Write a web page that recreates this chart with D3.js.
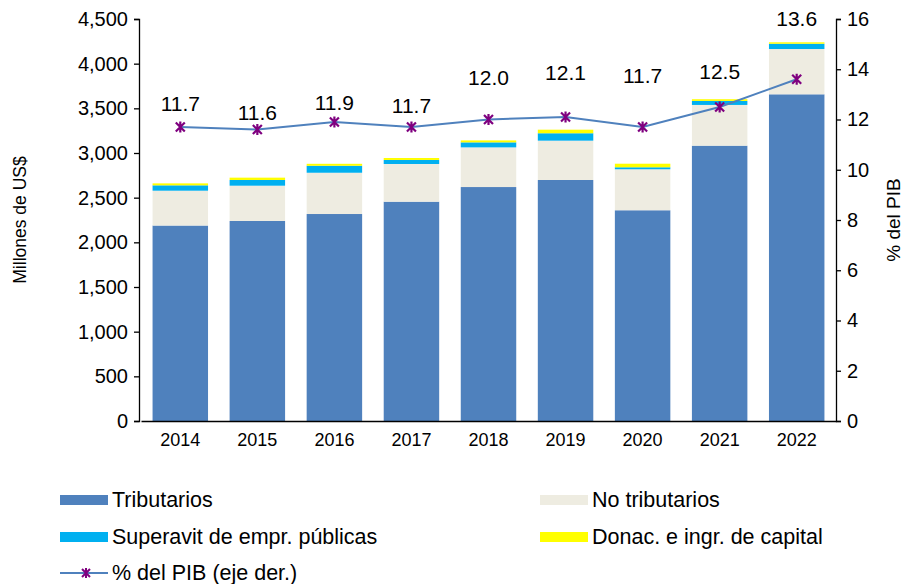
<!DOCTYPE html>
<html>
<head>
<meta charset="utf-8">
<script src="https://cdn.jsdelivr.net/npm/d3@7"></script>
<style>
  body { margin: 0; background: #fff; }
  text { font-family: "Liberation Sans", Arial, sans-serif; fill: #000; }
</style>
</head>
<body>
<div id="chart"></div>
<script>

let years = ['2014', '2015', '2016', '2017', '2018', '2019', '2020', '2021', '2022']

let tributarios = [2188, 2239, 2317, 2455, 2619, 2698, 2359, 3082, 3657]

let noTributarios = [390, 395, 462, 422, 444, 440, 459, 456, 507]

let superavit = [60, 64, 78, 45, 56, 83, 22, 45, 59]

let donaciones = [22, 26, 22, 22, 22, 40, 40, 19, 16]

let pctPib = [11.7, 11.6, 11.9, 11.7, 12.0, 12.1, 11.7, 12.5, 13.6]

let leftTicks = [0, 500, 1000, 1500, 2000, 2500, 3000, 3500, 4000, 4500]

let rightTicks = [0, 2, 4, 6, 8, 10, 12, 14, 16]

// label lift above each marker (px), as placed in the original
let labelLift = [24, 17, 20, 22, 42, 44, 52, 35, 61]

let chartWidth = 904
let chartHeight = 584
let plotLeft = 139
let plotRight = 836
let plotTop = 19
let plotBottom = 421

let seriesNames = ['Tributarios', 'No tributarios', 'Superavit de empr. públicas', 'Donac. e ingr. de capital']
let seriesColors = ['#4f81bd', '#eeece1', '#00b0f0', '#ffff00']
let lineColor = '#4f81bd'
let markerColor = '#7f007f'

let table = years.map((y, i) => ({
	year: y,
	s0: tributarios[i],
	s1: noTributarios[i],
	s2: superavit[i],
	s3: donaciones[i]
}))

let stack = d3.stack().keys(['s0', 's1', 's2', 's3'])(table)

let x = d3.scaleBand()
	.domain(years)
	.range([plotLeft + 2, plotRight])
	.paddingInner(0.28)
	.paddingOuter(0.15)

let yL = d3.scaleLinear().domain([0, 4500]).range([plotBottom, plotTop])
let yR = d3.scaleLinear().domain([0, 16]).range([plotBottom, plotTop])

const svg = d3.select('#chart')
	.append('svg')
	.attr('width', chartWidth)
	.attr('height', chartHeight)

// bars
svg.append('g')
	.selectAll('g')
	.data(stack)
	.enter()
	.append('g')
	.attr('fill', (d, i) => seriesColors[i])
	.selectAll('rect')
	.data(d => d)
	.enter()
	.append('rect')
	.attr('x', d => x(d.data.year))
	.attr('width', x.bandwidth())
	.attr('y', d => yL(d[1]))
	.attr('height', d => yL(d[0]) - yL(d[1]))

// axes
let leftAxis = svg.append('g')
	.attr('transform', `translate(${plotLeft},0)`)
	.call(d3.axisLeft(yL).tickValues(leftTicks).tickSize(5).tickPadding(6).tickFormat(d3.format(',')))
leftAxis.selectAll('text').style('font-size', '20px')

let rightAxis = svg.append('g')
	.attr('transform', `translate(${plotRight},0)`)
	.call(d3.axisRight(yR).tickValues(rightTicks).tickSize(5).tickPadding(6))
rightAxis.selectAll('text').style('font-size', '20px')

let bottomAxis = svg.append('g')
	.attr('transform', `translate(0,${plotBottom})`)
	.call(d3.axisBottom(x).tickSize(0).tickPadding(12))
bottomAxis.selectAll('text').style('font-size', '18px')

svg.selectAll('.domain').attr('stroke', '#000').attr('stroke-width', 1.3)
svg.selectAll('.tick line').attr('stroke', '#000').attr('stroke-width', 1.3)

// axis titles
svg.append('text')
	.attr('transform', `translate(26,${(plotTop + plotBottom) / 2}) rotate(-90)`)
	.attr('text-anchor', 'middle')
	.style('font-size', '17.5px')
	.text('Millones de US$')

svg.append('text')
	.attr('transform', `translate(893,${(plotTop + plotBottom) / 2}) rotate(-90)`)
	.attr('text-anchor', 'middle')
	.attr('dominant-baseline', 'central')
	.style('font-size', '19px')
	.text('% del PIB')

// line
let cx = d => x(d) + x.bandwidth() / 2

let line = d3.line()
	.x((d, i) => cx(years[i]))
	.y(d => yR(d))

svg.append('path')
	.datum(pctPib)
	.attr('d', line)
	.attr('fill', 'none')
	.attr('stroke', lineColor)
	.attr('stroke-width', 2)

let star = (r) => `M${-r},${-r}L${r},${r}M${-r},${r}L${r},${-r}M0,${-r - 1}L0,${r + 1}`

svg.append('g')
	.selectAll('path')
	.data(pctPib)
	.enter()
	.append('path')
	.attr('transform', (d, i) => `translate(${cx(years[i])},${yR(d)})`)
	.attr('d', star(4.5))
	.attr('stroke', markerColor)
	.attr('stroke-width', 2.2)
	.attr('fill', 'none')

svg.append('g')
	.selectAll('text')
	.data(pctPib)
	.enter()
	.append('text')
	.attr('x', (d, i) => cx(years[i]))
	.attr('y', (d, i) => yR(d) - labelLift[i])
	.attr('text-anchor', 'middle')
	.attr('dominant-baseline', 'central')
	.style('font-size', '21px')
	.text(d => d.toFixed(1))

// legend
let legendItems = [
	{name: seriesNames[0], color: seriesColors[0], lx: 60, ly: 500},
	{name: seriesNames[1], color: seriesColors[1], lx: 540, ly: 500},
	{name: seriesNames[2], color: seriesColors[2], lx: 60, ly: 537},
	{name: seriesNames[3], color: seriesColors[3], lx: 540, ly: 537}
]

let legend = svg.append('g')

legendItems.forEach(item => {
	legend.append('rect')
		.attr('x', item.lx)
		.attr('y', item.ly - 5)
		.attr('width', 48)
		.attr('height', 10)
		.attr('fill', item.color)
	legend.append('text')
		.attr('x', item.lx + 52)
		.attr('y', item.ly)
		.attr('dominant-baseline', 'central')
		.style('font-size', '21.5px')
		.text(item.name)
})

legend.append('line')
	.attr('x1', 60).attr('x2', 108)
	.attr('y1', 573).attr('y2', 573)
	.attr('stroke', lineColor)
	.attr('stroke-width', 2)

legend.append('path')
	.attr('transform', 'translate(86,573)')
	.attr('d', star(4))
	.attr('stroke', markerColor)
	.attr('stroke-width', 2)
	.attr('fill', 'none')

legend.append('text')
	.attr('x', 112)
	.attr('y', 573)
	.attr('dominant-baseline', 'central')
	.style('font-size', '21.5px')
	.text('% del PIB (eje der.)')

</script>
</body>
</html>
